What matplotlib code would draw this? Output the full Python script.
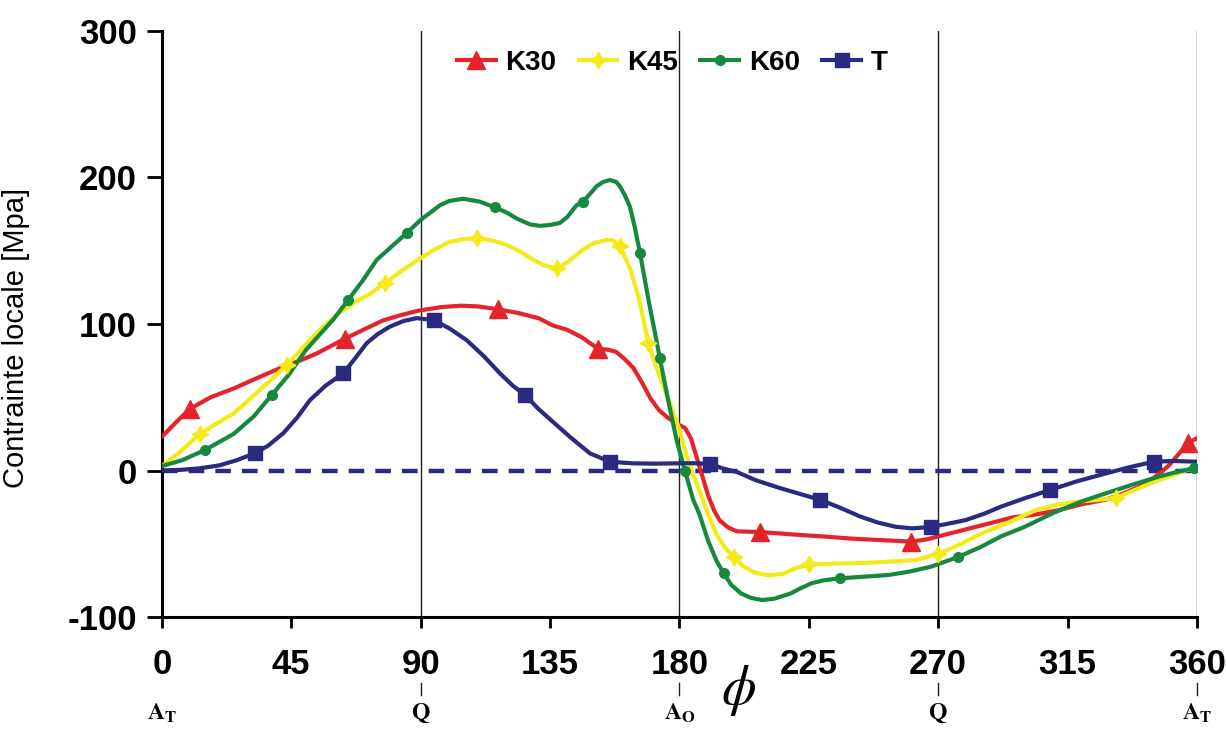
import matplotlib
matplotlib.use('Agg')
import matplotlib.pyplot as plt
from matplotlib.lines import Line2D
import matplotlib.transforms as mtransforms

plt.rcParams['font.family'] = ['Liberation Sans', 'DejaVu Sans']
plt.rcParams['mathtext.fontset'] = 'stix'
plt.rcParams['axes.unicode_minus'] = False

# traced curves (phi in degrees, stress in MPa)
k30_x = [0, 5, 9.7, 17, 25, 33, 41, 48, 54, 63.7, 70, 77, 83, 89, 97, 104, 110, 117, 124, 131,
         136, 141, 146, 151.8, 155, 158, 161, 164, 167, 170, 173, 176, 179, 182, 184, 186, 188,
         190, 192, 194, 197, 200, 208, 215, 222, 230, 240, 250, 260.7, 266, 272, 280, 288, 296,
         304, 312, 320, 328, 334, 340, 345, 350, 354, 357, 360]
k30_y = [23, 33, 42, 50, 56, 63, 69.8, 75, 80, 90, 96, 102.5, 106, 109, 111.5, 112.5, 112, 110,
         107.5, 104, 99, 96, 91, 83, 82.5, 81, 76, 70, 60, 49, 41, 36, 32, 29, 22, 9, -4, -17, -27,
         -34, -39, -41.5, -42, -43, -44, -45, -46.5, -47.5, -48.5, -47, -44, -40, -36, -32, -30,
         -27, -23, -20, -16, -11, -5, 3, 12, 19, 22]
k30_mx = [9.7, 63.7, 117, 151.8, 208, 260.7, 357]
k30_my = [42, 90, 110, 83, -42, -48.5, 19]

k45_x = [0, 6, 13.2, 19, 25, 33, 43.5, 50, 56, 62, 68, 72, 77.6, 84, 90, 95, 100, 105, 109.5,
         115, 120, 125, 129, 133, 137.3, 141, 146, 150, 154.7, 157, 159.3, 161, 163, 166, 169.2,
         171, 173.2, 176.7, 180, 182.5, 184.3, 187, 190, 193, 196, 199, 202, 206, 211, 216, 220,
         225, 235, 245, 255, 262.5, 269.8, 277, 285, 295, 304, 312, 320, 326, 332, 340, 346.7,
         352, 356, 360]
k45_y = [3, 12, 25, 32, 39, 53, 72, 86, 98, 108, 116, 120, 128, 137, 145, 151, 156, 158, 158.5,
         157, 154, 149, 144, 140, 138, 142, 150, 155, 157.5, 157, 153, 146, 137, 117, 87, 76, 64,
         46, 28, 10, 0, -14, -30, -44, -53, -59, -65, -69.5, -71.5, -70.5, -67, -64, -63.5, -63,
         -62, -61, -57, -51, -43, -35, -27, -23, -21, -20, -18.5, -12, -6.5, -3, 0, 2]
k45_mx = [13.2, 43.5, 77.6, 109.5, 137.3, 159.3, 169.2, 199, 225, 269.8, 332]
k45_my = [25, 72, 128, 158.5, 138, 153, 87, -59, -64, -57, -18.5]

k60_x = [0, 7, 15, 25, 32, 38.2, 44, 50, 55, 59.6, 64.8, 70, 74.7, 80, 85.1, 90, 96.7, 100,
         104.8, 110.6, 115.8, 120, 123.4, 128, 131.5, 135, 138.4, 141, 144.2, 146.5, 149, 151.2,
         153.5, 155.8, 158, 159.3, 161, 162.8, 164.5, 166.3, 168, 169.7, 171.5, 173.2, 176.1,
         179, 181.9, 184.8, 187, 190, 193, 195.4, 198, 201.5, 205, 208.8, 213, 218.6, 222, 225.9,
         230, 235.7, 244, 252.7, 260, 267.4, 277, 285, 291.8, 300, 310, 320, 328.3, 337, 346.7,
         353, 360]
k60_y = [3, 7, 14, 25, 37, 51.5, 65, 82, 93, 103, 116.4, 130, 143.7, 153, 162, 171, 181, 184,
         185.5, 183.5, 179.7, 176, 172, 168, 167, 167.6, 169, 173, 181, 183.5, 189, 194, 197,
         198.3, 197, 194, 188, 180, 166, 148.3, 130, 112, 94, 76.6, 48, 21, 0, -20, -30, -48, -62,
         -70, -78, -84, -87, -88.4, -87.5, -84, -80.5, -77, -75, -73.6, -72.5, -71.3, -69, -65.7,
         -59, -52, -45, -38.5, -29, -21, -15.6, -10, -4.2, -1, 2]
k60_mx = [15, 38.2, 64.8, 85.1, 115.8, 146.5, 166.3, 173.2, 181.9, 195.4, 235.7, 277, 359]
k60_my = [14, 51.5, 116.4, 162, 179.7, 183.5, 148.3, 76.6, 0, -70, -73.6, -59, 1.8]

t_x = [0, 7, 13.2, 20, 26, 32.3, 37, 42.2, 47, 51.5, 57, 63.1, 67, 71.2, 75, 79.3, 84, 88.6,
       94.5, 100, 106, 112, 117.6, 122, 126.3, 131, 135, 141.9, 148.9, 155.8, 163.8, 172, 179,
       185, 190.6, 195, 200, 206.4, 215, 222, 229, 236, 243, 249, 255.2, 261, 267.4, 273, 279.6,
       286, 291.8, 300, 308.9, 318, 328.3, 336, 344.9, 352, 360]
t_y = [0, 0.5, 1.5, 3.5, 7, 11.7, 17, 25.4, 36, 48, 58, 66.3, 76, 86.8, 93, 98.2, 102, 104,
       102.7, 97, 89, 78, 66.3, 58, 51.5, 42, 35, 23, 11.7, 6, 4.9, 4.7, 4.9, 5, 4.5, 1.5, -1,
       -6.5, -12, -16, -20, -25.5, -31.5, -35.5, -38.4, -39.5, -38.5, -36.5, -33.8, -29.5, -24.7,
       -19, -13.3, -7.5, -2, 2, 6, 6.5, 6]
t_mx = [32.3, 63.1, 94.5, 126.3, 155.8, 190.6, 229, 267.4, 308.9, 344.9]
t_my = [11.7, 66.3, 102.7, 51.5, 6, 4.5, -20, -38.5, -13.3, 6]

x_ticks = [0, 45, 90, 135, 180, 225, 270, 315, 360]
y_ticks = [-100, 0, 100, 200, 300]
v_lines = [90, 180, 270, 360]
pos_labels = [(0, r'$\mathbf{A_T}$'), (90, r'$\mathbf{Q}$'), (180, r'$\mathbf{A_O}$'),
              (270, r'$\mathbf{Q}$'), (360, r'$\mathbf{A_T}$')]

red = '#e5232b'
yellow = '#f4ea1a'
green = '#17893f'
navy = '#2a2a80'

fig = plt.figure(figsize=(12.26, 7.29), dpi=100)
ax = fig.add_axes([0.132, 0.1536, 0.8443, 0.8039])

for v in v_lines:
    ax.axvline(v, color='#222222', lw=1.0, zorder=1)

ax.plot([0, 360], [0, 0], color=navy, lw=3.2, dashes=(3.5, 2.5), zorder=2)

lw = 3.0
ax.plot(k30_x, k30_y, color=red, lw=lw, zorder=3)
ax.plot(k45_x, k45_y, color=yellow, lw=lw, zorder=3)
ax.plot(k60_x, k60_y, color=green, lw=lw, zorder=3)
ax.plot(t_x, t_y, color=navy, lw=lw, zorder=4)

star4 = (4, 1, 0)
ax.plot(k30_mx, k30_my, ls='none', marker='^', ms=13, color=red, zorder=5)
ax.plot(k45_mx, k45_my, ls='none', marker=star4, ms=12, color=yellow, zorder=5)
ax.plot(k60_mx, k60_my, ls='none', marker='o', ms=7, color=green, zorder=5)
ax.plot(t_mx, t_my, ls='none', marker='s', ms=10, color=navy, zorder=6)

ax.set_xlim(0, 360)
ax.set_ylim(-100, 300)
ax.set_xticks(x_ticks)
ax.set_yticks(y_ticks)
ax.spines['top'].set_visible(False)
ax.spines['right'].set_visible(False)
ax.spines['left'].set_linewidth(2.2)
ax.spines['bottom'].set_linewidth(2.2)
ax.tick_params(axis='x', direction='out', length=8, width=2, pad=14, labelsize=25)
ax.tick_params(axis='y', direction='out', length=11, width=2, pad=7, labelsize=25)
for lab in ax.get_xticklabels() + ax.get_yticklabels():
    lab.set_fontweight('bold')

ax.set_ylabel('Contrainte locale [Mpa]', fontsize=21)
ax.yaxis.set_label_coords(-0.1275, 0.476)

trans = mtransforms.blended_transform_factory(ax.transData, ax.transAxes)
for v in v_lines:
    ax.plot([v, v], [-0.113, -0.133], color='#222222', lw=1.0, transform=trans, clip_on=False)
for xv, txt in pos_labels:
    ax.text(xv, -0.165, txt, transform=trans, ha='center', va='center', fontsize=17)
ax.text(200.5, -0.125, r'$\phi$', transform=trans, ha='center', va='center', fontsize=40)

handles = [
    Line2D([], [], color=red, lw=lw, marker='^', ms=13),
    Line2D([], [], color=yellow, lw=lw, marker=star4, ms=12),
    Line2D([], [], color=green, lw=lw, marker='o', ms=7),
    Line2D([], [], color=navy, lw=lw, marker='s', ms=10),
]
leg = ax.legend(handles, ['K30', 'K45', 'K60', 'T'], loc='center', bbox_to_anchor=(0.493, 0.945),
                ncol=4, frameon=False, handlelength=1.4, handletextpad=0.35, columnspacing=0.8,
                prop={'size': 20, 'weight': 'bold'})

fig.savefig('out.png', dpi=100)
